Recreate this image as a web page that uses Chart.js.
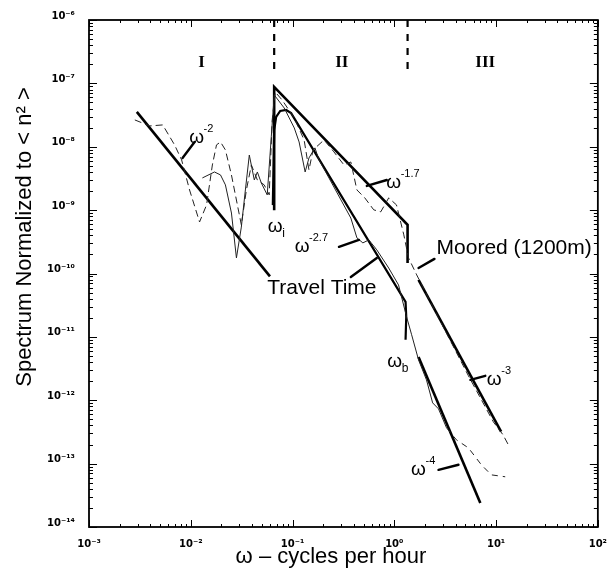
<!DOCTYPE html>
<html>
<head>
<meta charset="utf-8">
<script src="https://cdn.jsdelivr.net/npm/chart.js@4.4.1/dist/chart.umd.min.js"></script>
<style>
  html, body { margin: 0; padding: 0; background: #fff; }
  #wrap { position: relative; width: 610px; height: 574px; }
</style>
</head>
<body>
<div id="wrap"><canvas id="chart"></canvas></div>
<script>
// frequency in cycles per hour, spectrum normalized to <n^2>

// thin dashed spectrum (moored, 1200 m)
const mooredX = [2.82e-3, 3.95e-3, 5.3e-3, 6.93e-3, 8.13e-3, 9.73e-3, 1.22e-2, 1.43e-2, 1.63e-2, 1.79e-2,
  1.96e-2, 2.19e-2, 2.51e-2, 2.87e-2, 3.14e-2, 3.52e-2, 3.94e-2, 4.51e-2, 5.27e-2, 5.9e-2,
  6.31e-2, 6.76e-2, 7.9e-2, 0.104, 0.130, 0.145, 0.159, 0.204, 0.255, 0.320,
  0.374, 0.429, 0.513, 0.628, 0.736, 0.881, 1.05, 1.24, 1.38, 1.66,
  2.72, 5.35, 9.4, 11.7, 13.2]
const mooredY = [2.65e-8, 2.13e-8, 2.21e-8, 1.07e-8, 6.2e-9, 2.08e-9, 6.5e-10, 1.21e-9, 5.16e-9, 1.07e-8,
  1.19e-8, 8.9e-9, 3.59e-9, 1.21e-9, 5.85e-10, 2.08e-9, 5.16e-9, 2.99e-9, 2.5e-9, 1.74e-9,
  2.65e-8, 7.3e-8, 5.47e-8, 2.84e-8, 1.28e-8, 4.3e-9, 8.9e-9, 1.28e-8, 8.3e-9, 5.16e-9,
  5.75e-9, 2.08e-9, 1.56e-9, 1.01e-9, 9.4e-10, 1.56e-9, 1.21e-9, 4.07e-10, 1.76e-10, 9.5e-11,
  2.0e-11, 2.43e-12, 4.56e-13, 2.85e-13, 1.98e-13]

// thin solid spectrum (travel time)
const travelX = [1.30e-2, 1.71e-2, 1.96e-2, 2.19e-2, 2.51e-2, 2.81e-2, 3.14e-2, 3.44e-2, 3.76e-2, 4.21e-2,
  4.51e-2, 4.93e-2, 5.64e-2, 6.18e-2, 6.61e-2, 8.28e-2, 0.104, 0.116, 0.133, 0.145,
  0.166, 0.182, 0.228, 0.299, 0.374, 0.429, 0.491, 0.562, 0.673, 0.881,
  1.10, 1.32, 1.48, 1.73, 2.07, 2.38, 2.72, 3.26, 4.08, 5.35,
  7.16, 8.97, 12.3]
const travelY = [3.22e-9, 4.0e-9, 3.59e-9, 2.5e-9, 9.0e-10, 1.76e-10, 5.4e-10, 2.08e-9, 7.4e-9, 2.99e-9,
  4.0e-9, 2.69e-9, 1.74e-9, 1.43e-8, 6.56e-8, 4.09e-8, 1.98e-8, 1.19e-8, 4.0e-9, 6.65e-9,
  9.6e-9, 6.2e-9, 3.22e-9, 1.45e-9, 7.5e-10, 3.65e-10, 3.04e-10, 3.39e-10, 2.36e-10, 1.22e-10,
  6.6e-11, 2.07e-11, 1.08e-11, 4.34e-12, 2.1e-12, 9.1e-13, 7.3e-13, 3.67e-13, 2.37e-13, 1.77e-13,
  9.6e-14, 6.65e-14, 6.2e-14]

// thick fitted lines
const fitLowX = [2.95e-3, 6.0e-2]            // w^-2
const fitLowY = [3.55e-8, 9.0e-11]
const fitMooredX = [0.066, 0.066, 1.35, 1.35] // w_i spike, w^-1.7, drop
const fitMooredY = [1.0e-9, 8.8e-8, 5.85e-10, 1.47e-10]
const fitMooredHiX = [1.73, 11.2]            // w^-3
const fitMooredHiY = [7.9e-11, 3.2e-13]
const fitTravelX = [0.064, 0.066, 0.069, 0.0757, 0.0865, 0.0968, 1.29, 1.31, 1.29] // hump, w^-2.7, w_b
const fitTravelY = [1.2e-9, 1.84e-8, 2.95e-8, 3.67e-8, 3.8e-8, 3.4e-8, 3.56e-11, 2.07e-11, 9.0e-12]
const fitTravelHiX = [1.73, 7.0]             // w^-4
const fitTravelHiY = [4.8e-12, 2.4e-14]

// region boundaries
const boundaryX = [0.066, 1.35]
const boundaryY = [1e-6, 1.6e-7]

// axis decades
const xDecades = [-3, -2, -1, 0, 1, 2]
const yDecades = [-14, -13, -12, -11, -10, -9, -8, -7, -6]

const SUP = { "-": "\u207B", "0": "\u2070", "1": "\u00B9", "2": "\u00B2", "3": "\u00B3",
  "4": "\u2074", "5": "\u2075", "6": "\u2076", "7": "\u2077", "8": "\u2078", "9": "\u2079" }
const pow10Label = (v) => "10" + String(Math.round(Math.log10(v))).split("").map(c => SUP[c]).join("")

const pts = (xs, ys) => xs.map((x, i) => ({ x: x, y: ys[i] }))

// text annotations, anchored in data coordinates
const romanLabels = [
  { x: 0.0128, y: 2.1e-7, text: "I" },
  { x: 0.305, y: 2.1e-7, text: "II" },
  { x: 7.83, y: 2.1e-7, text: "III" }
]
const omegaLabels = [
  { x: 0.0114, y: 1.38e-8, sup: "-2" },
  { x: 0.0676, y: 5.43e-10, sub: "i" },
  { x: 0.986, y: 2.69e-9, sup: "-1.7" },
  { x: 0.124, y: 2.63e-10, sup: "-2.7" },
  { x: 1.01, y: 4.04e-12, sub: "b" },
  { x: 9.6, y: 2.1e-12, sup: "-3" },
  { x: 1.73, y: 7.98e-14, sup: "-4" }
]
const wordLabels = [
  { x: 2.60, y: 2.54e-10, text: "Moored (1200m)" },
  { x: 0.0564, y: 5.93e-11, text: "Travel Time" }
]
const leaders = [
  [8.3e-3, 6.65e-9, 0.0109, 1.19e-8],
  [0.537, 2.41e-9, 0.843, 2.99e-9],
  [0.286, 2.63e-10, 0.449, 3.39e-10],
  [1.73, 1.22e-10, 2.48, 1.70e-10],
  [0.374, 8.8e-11, 0.673, 1.76e-10],
  [5.6, 2.1e-12, 7.83, 2.43e-12],
  [2.72, 7.98e-14, 4.27, 9.6e-14]
]

const thick = { borderColor: "#000", borderWidth: 2.6, pointRadius: 0, tension: 0 }

const decor = {
  id: "decor",
  afterDatasetsDraw(chart) {
    const { ctx, chartArea: a, scales: { x, y } } = chart
    const px = (v) => x.getPixelForValue(v)
    const py = (v) => y.getPixelForValue(v)
    ctx.save()
    ctx.strokeStyle = "#000"
    ctx.fillStyle = "#000"

    // frame
    ctx.lineWidth = 1.8
    ctx.strokeRect(a.left, a.top, a.right - a.left, a.bottom - a.top)

    // inward ticks on all four sides
    ctx.lineWidth = 1
    ctx.beginPath()
    for (let e = -14; e < -6 + 1; e++) {
      for (let m = 1; m < 10; m++) {
        const v = m * Number("1e" + e)
        if (v > 1e-6 * 1.0001) continue
        const yy = Math.round(py(v)) + 0.5
        const len = m === 1 ? 8 : 4
        ctx.moveTo(a.left, yy); ctx.lineTo(a.left + len, yy)
        ctx.moveTo(a.right, yy); ctx.lineTo(a.right - len, yy)
      }
    }
    for (let e = -3; e < 2 + 1; e++) {
      for (let m = 1; m < 10; m++) {
        const v = m * Number("1e" + e)
        if (v > 1e2 * 1.0001) continue
        const xx = Math.round(px(v)) + 0.5
        const len = m === 1 ? 7 : 3
        ctx.moveTo(xx, a.bottom); ctx.lineTo(xx, a.bottom - len)
        ctx.moveTo(xx, a.top); ctx.lineTo(xx, a.top + len)
      }
    }
    ctx.stroke()

    // leader lines
    ctx.lineWidth = 2.4
    ctx.lineCap = "round"
    leaders.forEach(l => {
      ctx.beginPath()
      ctx.moveTo(px(l[0]), py(l[1]))
      ctx.lineTo(px(l[2]), py(l[3]))
      ctx.stroke()
    })

    // roman numerals for the three regimes
    ctx.font = "bold 17px 'Liberation Serif', serif"
    ctx.textAlign = "center"
    ctx.textBaseline = "middle"
    romanLabels.forEach(r => ctx.fillText(r.text, px(r.x), py(r.y)))

    // omega power-law labels
    omegaLabels.forEach(o => {
      const cx = px(o.x), cy = py(o.y)
      ctx.font = "19px 'Liberation Sans', sans-serif"
      ctx.textAlign = "center"
      ctx.textBaseline = "middle"
      ctx.fillText("\u03C9", cx, cy)
      ctx.textAlign = "left"
      if (o.sup) {
        ctx.font = "11px 'Liberation Sans', sans-serif"
        ctx.fillText(o.sup, cx + 7, cy - 9)
      }
      if (o.sub) {
        ctx.font = "12px 'Liberation Sans', sans-serif"
        ctx.fillText(o.sub, cx + 7, cy + 7)
      }
    })

    ctx.font = "21px 'Liberation Sans', sans-serif"
    ctx.textAlign = "left"
    ctx.textBaseline = "middle"
    wordLabels.forEach(w => ctx.fillText(w.text, px(w.x), py(w.y)))

    // axis titles
    ctx.font = "22px 'Liberation Sans', sans-serif"
    ctx.textAlign = "center"
    ctx.fillText("\u03C9 \u2013 cycles per hour", 331, 557)
    ctx.save()
    ctx.translate(25, 237)
    ctx.rotate(-Math.PI / 2)
    ctx.fillText("Spectrum Normalized to < n\u00B2 >", 0, 0)
    ctx.restore()

    ctx.restore()
  }
}

new Chart(document.getElementById("chart"), {
  type: "line",
  data: {
    datasets: [
      { data: pts(mooredX, mooredY), borderColor: "#222", borderWidth: 1, borderDash: [7, 4], pointRadius: 0 },
      {
        data: pts(travelX, travelY), borderColor: "#222", borderWidth: 1, pointRadius: 0,
        segment: { borderDash: c => (c.p0.parsed.x > 3 ? [6, 5] : undefined) }
      },
      Object.assign({ data: pts(fitLowX, fitLowY) }, thick),
      Object.assign({ data: pts(fitMooredX, fitMooredY) }, thick),
      Object.assign({ data: pts(fitMooredHiX, fitMooredHiY) }, thick),
      Object.assign({ data: pts(fitTravelX, fitTravelY) }, thick, { borderWidth: 2.2 }),
      Object.assign({ data: pts(fitTravelHiX, fitTravelHiY) }, thick),
      { data: pts([boundaryX[0], boundaryX[0]], boundaryY), borderColor: "#000", borderWidth: 2.2, borderDash: [7, 7], pointRadius: 0 },
      { data: pts([boundaryX[1], boundaryX[1]], boundaryY), borderColor: "#000", borderWidth: 2.2, borderDash: [7, 7], pointRadius: 0 }
    ]
  },
  options: {
    responsive: true,
    maintainAspectRatio: false,
    animation: false,
    layout: { padding: { top: 20, right: 10, left: 0, bottom: 0 } },
    plugins: { legend: { display: false }, tooltip: { enabled: false } },
    scales: {
      x: {
        type: "logarithmic",
        min: 1e-3,
        max: 1e2,
        grid: { display: false },
        border: { display: false },
        afterBuildTicks: s => { s.ticks = xDecades.map(e => ({ value: Number("1e" + e) })) },
        afterFit: s => { s.height = 47 },
        ticks: {
          autoSkip: false, maxRotation: 0, padding: 3, color: "#000",
          font: { family: "'DejaVu Sans', sans-serif", size: 10, weight: "bold" },
          callback: v => pow10Label(v)
        }
      },
      y: {
        type: "logarithmic",
        min: 1e-14,
        max: 1e-6,
        grid: { display: false },
        border: { display: false },
        afterBuildTicks: s => { s.ticks = yDecades.map(e => ({ value: Number("1e" + e) })) },
        afterFit: s => { s.width = 89 },
        ticks: {
          autoSkip: false, padding: 6, labelOffset: -4, color: "#000",
          font: { family: "'DejaVu Sans', sans-serif", size: 10, weight: "bold" },
          callback: v => pow10Label(v)
        }
      }
    }
  },
  plugins: [decor]
})
</script>
</body>
</html>
